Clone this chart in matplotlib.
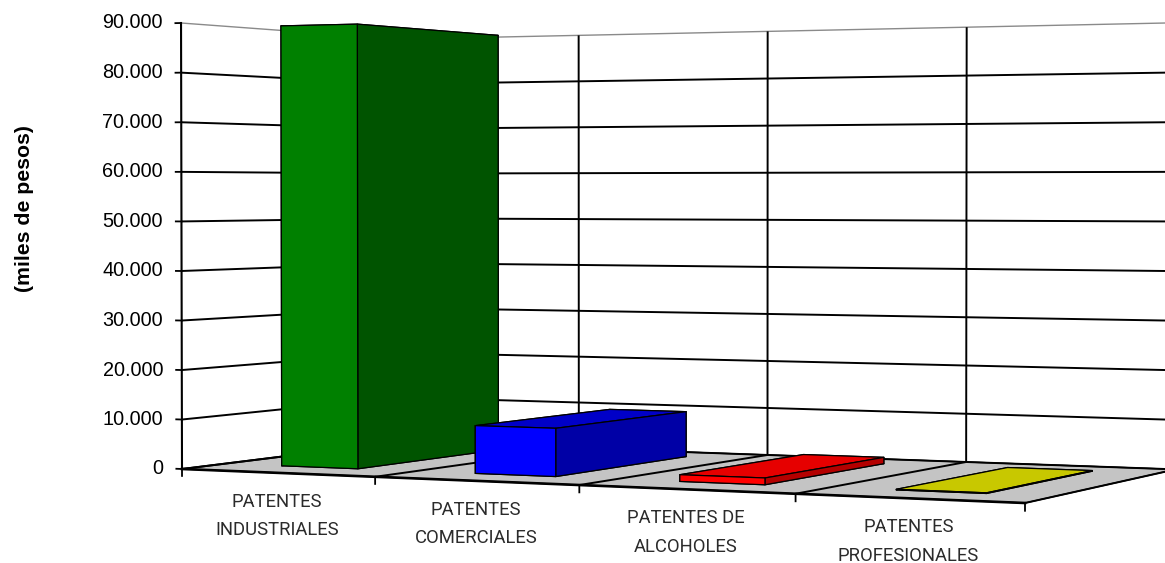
import numpy as np
import matplotlib
matplotlib.use("Agg")
import matplotlib.pyplot as plt
from matplotlib import font_manager as fm
from mpl_toolkits.mplot3d import proj3d

# ---------------- data ----------------
categories = ["PATENTES\nINDUSTRIALES", "PATENTES\nCOMERCIALES",
              "PATENTES DE\nALCOHOLES", "PATENTES\nPROFESIONALES"]
values = [89800, 9500, 1300, 120]
z_ticks = [0, 10000, 20000, 30000, 40000, 50000, 60000, 70000, 80000, 90000]
z_tick_labels = ["0", "10.000", "20.000", "30.000", "40.000", "50.000",
                 "60.000", "70.000", "80.000", "90.000"]
axis_title = "(miles de pesos)"

# ---------------- styles ----------------
front_colors = ["#008000", "#0000ff", "#ff0000", "#e8e800"]
side_colors = ["#005400", "#0000a6", "#b40000", "#a0a000"]
top_colors = ["#00a000", "#0000c8", "#e60000", "#c8c800"]


def has_font(name):
    try:
        fm.findfont(fm.FontProperties(family=name), fallback_to_default=False)
        return True
    except Exception:
        return False


if has_font("Liberation Sans Narrow"):
    cat_family, cat_size, cat_weight = "Liberation Sans Narrow", 14, "normal"
else:
    cat_family, cat_size, cat_weight = "Roboto", 13.3, "normal"
cat_linespacing = 26.3 / (0.82 * cat_size * 100 / 72)

W, H = 1165, 563
plt.rcParams.update({"grid.color": "black", "grid.linewidth": 1.4,
                     "grid.linestyle": "-", "grid.alpha": 1.0})

fig = plt.figure(figsize=(W / 100, H / 100), dpi=100)
fig.patch.set_facecolor("white")
ax = fig.add_axes([0, 0, 1, 1], projection="3d")
ax.set_proj_type("persp", focal_length=0.63)
ax.view_init(elev=0.9, azim=-64.1)
ax.set_xlim(0, len(categories))
ax.set_ylim(0, 1)
ax.set_zlim(z_ticks[0], z_ticks[-1])
ax.set_box_aspect((2.19, 1.05, 1.09))

ax.set_xticks(np.arange(len(categories) + 1))
ax.set_yticks([])
ax.set_zticks(z_ticks[:-1])

for axis in (ax.xaxis, ax.yaxis, ax.zaxis):
    axis._axinfo["grid"].update(color="black", linewidth=1.4, linestyle="-")
    axis._axinfo["tick"]["inward_factor"] = 0.0
    axis._axinfo["tick"]["outward_factor"] = 0.0
    axis.set_tick_params(label1On=False, label2On=False,
                         tick1On=False, tick2On=False)
    axis.line.set_visible(False)
    axis.label.set_visible(False)
    axis.offsetText.set_visible(False)

ax.xaxis.set_pane_color("white")
ax.yaxis.set_pane_color("white")
ax.zaxis.set_pane_color("#c4c4c4")
for axis, ec in ((ax.xaxis, "#8a8a8a"), (ax.yaxis, "#8a8a8a"), (ax.zaxis, "black")):
    axis.pane.set_edgecolor(ec)
    axis.pane.set_linewidth(1.0)

# ---------------- bars ----------------
bar_width = 0.4
depth_front, depth_back = 0.185, 0.865
for i, v in enumerate(values):
    face_cols = [top_colors[i], top_colors[i], front_colors[i],
                 side_colors[i], side_colors[i], side_colors[i]]
    ax.bar3d(i + 0.5 - bar_width / 2, depth_front, 0, bar_width,
             depth_back - depth_front, v, color=face_cols, shade=False,
             edgecolor="black", linewidth=0.9)

# ---------------- axis lines / ticks ----------------
ax.plot([0, 0], [0, 0], [0, z_ticks[-1]], color="black", lw=1.5)
for v in z_ticks:
    ax.plot([0, -0.03], [0, 0], [v, v], color="black", lw=1.3)
ax.plot([0, len(categories)], [0, 0], [0, 0], color="black", lw=1.9)
for i in range(len(categories) + 1):
    ax.plot([i, i], [0, 0], [0, -1400], color="black", lw=1.3)

fig.text(25 / W, 1 - 209 / H, axis_title, rotation=90, ha="center",
         va="center", fontsize=15.3, weight="bold", family="Liberation Sans")

# ---------------- place the 3D box on the canvas ----------------
fig.canvas.draw()


def to_2d(x, y, z):
    xs, ys, _ = proj3d.proj_transform(np.array([x]), np.array([y]),
                                      np.array([z]), ax.M)
    return xs[0], ys[0]


p0 = ax.transData.transform(to_2d(0, 0, 0))
p1 = ax.transData.transform(to_2d(0, 0, z_ticks[-1]))
bb = ax.get_position()
x0, y0, side = bb.x0 * W, bb.y0 * H, bb.width * W
target_x, target_y0, target_y1 = 182, H - 469, H - 23
s = (target_y1 - target_y0) / (p1[1] - p0[1])
nx0 = target_x - (p0[0] - x0) * s
ny0 = target_y0 - (p0[1] - y0) * s
nside = side * s
ax.set_position([nx0 / W, ny0 / H, nside / W, nside / H])

# value-axis tick labels, left of the vertical axis
for v, lab in zip(z_ticks, z_tick_labels):
    ax.annotate(lab, xy=to_2d(0, 0, v), xycoords="data",
                xytext=(-13.5, 0), textcoords="offset points",
                ha="right", va="center", fontsize=14.3,
                family="Liberation Sans", color="black",
                annotation_clip=False)

# category labels: below the middle of each category on the front edge
for i, lab in enumerate(categories):
    ax.annotate(lab, xy=to_2d(i + 0.5, 0, 0), xycoords="data",
                xytext=(0, -31), textcoords="offset points",
                ha="center", va="center", fontsize=cat_size,
                family=cat_family, weight=cat_weight,
                linespacing=cat_linespacing, color="#2b2b2b",
                annotation_clip=False)

fig.savefig("out.png", dpi=100, facecolor="white")
